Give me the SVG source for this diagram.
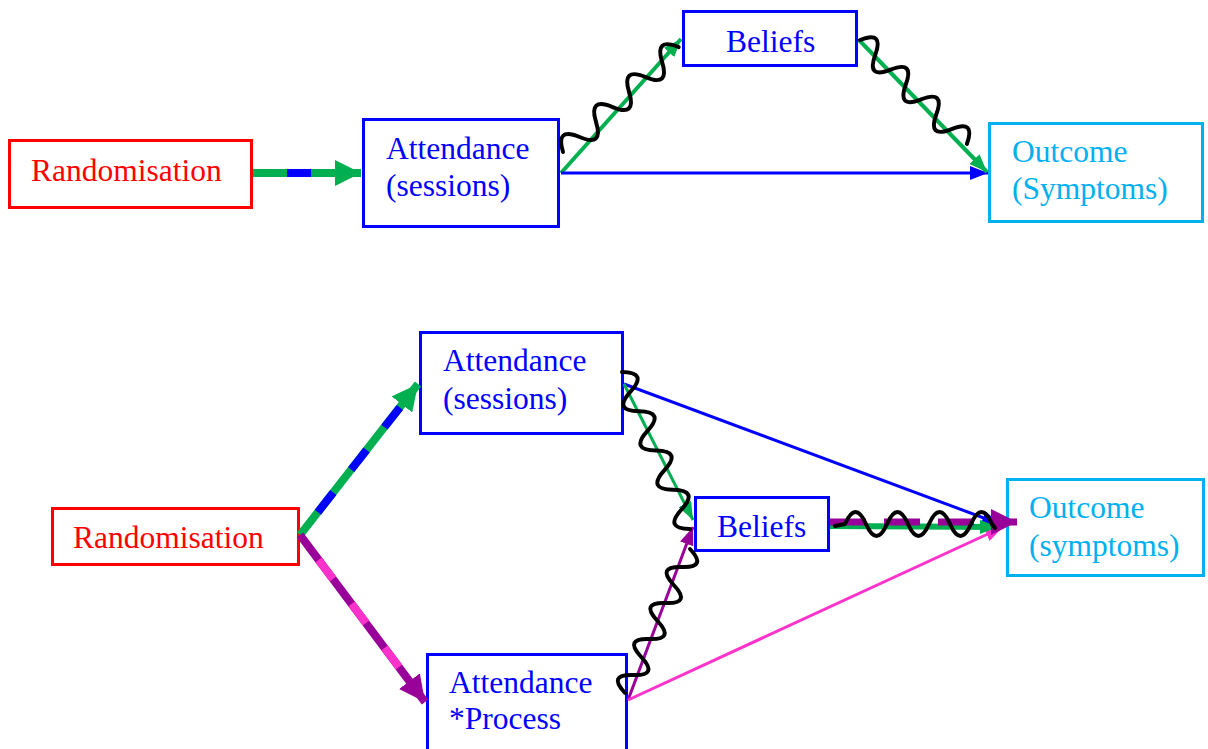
<svg xmlns="http://www.w3.org/2000/svg" width="1208" height="749" viewBox="0 0 1208 749">
  <style>
    .box { fill: #FFFFFF; stroke-width: 3; }
    .red { stroke: #FF0000; }
    .blue { stroke: #0000FF; }
    .cyan { stroke: #00B0F0; }
    .lbl { font-family: "Liberation Serif", "Times New Roman", serif; font-size: 31.5px; }
    .t-red { fill: #FF0000; }
    .t-blue { fill: #0000FF; }
    .t-cyan { fill: #00B0F0; }
    .ln { fill: none; stroke-linecap: butt; }
    .wave { fill: none; stroke: #000000; stroke-width: 4; stroke-linecap: round; stroke-linejoin: round; }
  </style>
  <defs>
    <marker id="ah-green" viewBox="0 0 18 14" refX="18" refY="7" markerWidth="18" markerHeight="14" orient="auto" markerUnits="userSpaceOnUse">
      <path d="M0,0 L18,7 L0,14 z" fill="#00B050"/>
    </marker>
    <marker id="ah-blue" viewBox="0 0 18 14" refX="18" refY="7" markerWidth="18" markerHeight="14" orient="auto" markerUnits="userSpaceOnUse">
      <path d="M0,0 L18,7 L0,14 z" fill="#0000FF"/>
    </marker>
    <marker id="ah-purple" viewBox="0 0 18 14" refX="18" refY="7" markerWidth="18" markerHeight="14" orient="auto" markerUnits="userSpaceOnUse">
      <path d="M0,0 L18,7 L0,14 z" fill="#990099"/>
    </marker>
    <marker id="ah-pink" viewBox="0 0 18 14" refX="18" refY="7" markerWidth="18" markerHeight="14" orient="auto" markerUnits="userSpaceOnUse">
      <path d="M0,0 L18,7 L0,14 z" fill="#FF33CC"/>
    </marker>
    <marker id="ah-green-lg" viewBox="0 0 26 26" refX="26" refY="13" markerWidth="26" markerHeight="26" orient="auto" markerUnits="userSpaceOnUse">
      <path d="M0,0 L26,13 L0,26 z" fill="#00B050"/>
    </marker>
    <marker id="ah-purple-lg" viewBox="0 0 26 26" refX="26" refY="13" markerWidth="26" markerHeight="26" orient="auto" markerUnits="userSpaceOnUse">
      <path d="M0,0 L26,13 L0,26 z" fill="#990099"/>
    </marker>
  </defs>

  <!-- upper model -->
  <g id="rand-top">
    <rect class="box red" x="9.5" y="140.5" width="242" height="67"/>
    <text class="lbl t-red" x="31" y="181">Randomisation</text>
  </g>
  <g id="attendance-top">
    <rect class="box blue" x="363.5" y="119.5" width="195" height="107"/>
    <text class="lbl t-blue" x="386" y="159">Attendance</text>
    <text class="lbl t-blue" x="386" y="196">(sessions)</text>
  </g>
  <g id="beliefs-top">
    <rect class="box blue" x="683.5" y="11.5" width="173" height="54"/>
    <text class="lbl t-blue" x="726" y="52">Beliefs</text>
  </g>
  <g id="outcome-top">
    <rect class="box cyan" x="989.5" y="123.5" width="213" height="98"/>
    <text class="lbl t-cyan" x="1012" y="162">Outcome</text>
    <text class="lbl t-cyan" x="1012" y="199">(Symptoms)</text>
  </g>

  <!-- lower model -->
  <g id="rand-bottom">
    <rect class="box red" x="52.5" y="508.5" width="246" height="56"/>
    <text class="lbl t-red" x="73" y="548">Randomisation</text>
  </g>
  <g id="attendance-bottom">
    <rect class="box blue" x="420.5" y="332.5" width="202" height="101"/>
    <text class="lbl t-blue" x="443" y="371">Attendance</text>
    <text class="lbl t-blue" x="443" y="409">(sessions)</text>
  </g>
  <g id="beliefs-bottom">
    <rect class="box blue" x="695.5" y="497.5" width="133" height="53"/>
    <text class="lbl t-blue" x="717" y="537">Beliefs</text>
  </g>
  <g id="outcome-bottom">
    <rect class="box cyan" x="1007.5" y="479.5" width="196" height="96"/>
    <text class="lbl t-cyan" x="1029" y="518">Outcome</text>
    <text class="lbl t-cyan" x="1029" y="556">(symptoms)</text>
  </g>
  <g id="process-bottom">
    <rect class="box blue" x="427.5" y="654.5" width="199" height="110"/>
    <text class="lbl t-blue" x="449" y="693">Attendance</text>
    <text class="lbl t-blue" x="449" y="729">*Process</text>
  </g>

  <g id="connectors">
    <!-- upper: randomisation to attendance -->
    <line class="ln" x1="253" y1="173" x2="361" y2="173" stroke="#00B050" stroke-width="8" marker-end="url(#ah-green-lg)"/>
    <line class="ln" x1="287" y1="173" x2="311" y2="173" stroke="#0000FF" stroke-width="8"/>
    <!-- upper: attendance to beliefs / outcome, beliefs to outcome -->
    <line class="ln" x1="561" y1="173" x2="681" y2="39" stroke="#00B050" stroke-width="4" marker-end="url(#ah-green)"/>
    <line class="ln" x1="561" y1="173" x2="988" y2="173" stroke="#0000FF" stroke-width="3" marker-end="url(#ah-blue)"/>
    <line class="ln" x1="859" y1="40" x2="987" y2="172" stroke="#00B050" stroke-width="4" marker-end="url(#ah-green)"/>
    <path class="wave" transform="translate(563,152) rotate(-42.2)" d="M0,0 q11.15,-24 22.3,0 t22.3,0 t22.3,0 t22.3,0 t22.3,0 t22.3,0 t22.3,0"/>
    <path class="wave" transform="translate(860,40) rotate(44.2)" d="M0,0 q10.65,-24 21.3,0 t21.3,0 t21.3,0 t21.3,0 t21.3,0 t21.3,0 t21.3,0"/>

    <!-- lower: randomisation to both attendance measures -->
    <line class="ln" x1="300" y1="535" x2="418" y2="384" stroke="#00B050" stroke-width="8" marker-end="url(#ah-green-lg)"/>
    <line class="ln" x1="300" y1="535" x2="401" y2="406" stroke="#0000FF" stroke-width="8" stroke-dasharray="25 29" stroke-dashoffset="25"/>
    <line class="ln" x1="300" y1="535" x2="425" y2="702" stroke="#990099" stroke-width="8" marker-end="url(#ah-purple-lg)"/>
    <line class="ln" x1="300" y1="535" x2="408" y2="679" stroke="#FF33CC" stroke-width="8" stroke-dasharray="24 31" stroke-dashoffset="24"/>

    <!-- lower: direct and mediated paths -->
    <line class="ln" x1="624" y1="384" x2="1000" y2="524" stroke="#0000FF" stroke-width="3" marker-end="url(#ah-blue)"/>
    <line class="ln" x1="624" y1="384" x2="693" y2="520" stroke="#00B050" stroke-width="3" marker-end="url(#ah-green)"/>
    <line class="ln" x1="628" y1="700" x2="693" y2="527" stroke="#990099" stroke-width="3" marker-end="url(#ah-purple)"/>
    <line class="ln" x1="628" y1="700" x2="1003" y2="527" stroke="#FF33CC" stroke-width="3" marker-end="url(#ah-pink)"/>
    <line class="ln" x1="830" y1="526" x2="998" y2="527" stroke="#00B050" stroke-width="6" marker-end="url(#ah-green)"/>
    <line class="ln" x1="830" y1="522" x2="994" y2="522" stroke="#990099" stroke-width="7" stroke-dasharray="36 18"/>
    <line class="ln" x1="990" y1="522" x2="1017" y2="522" stroke="#990099" stroke-width="7" marker-end="url(#ah-purple-lg)"/>

    <path class="wave" transform="translate(622,372) rotate(66.6)" d="M0,0 q10.7,-24 21.4,0 t21.4,0 t21.4,0 t21.4,0 t21.4,0 t21.4,0 t21.4,0 t21.4,0"/>
    <path class="wave" transform="translate(625,693) rotate(-65.7)" d="M0,0 q9.9,-24 19.75,0 t19.75,0 t19.75,0 t19.75,0 t19.75,0 t19.75,0 t19.75,0 t19.75,0"/>
    <path class="wave" d="M835,526 L845,524 q10.5,-24 21,0 t21,0 t21,0 t21,0 t21,0 t21,0 t21,0 l3,4"/>
  </g>
</svg>
